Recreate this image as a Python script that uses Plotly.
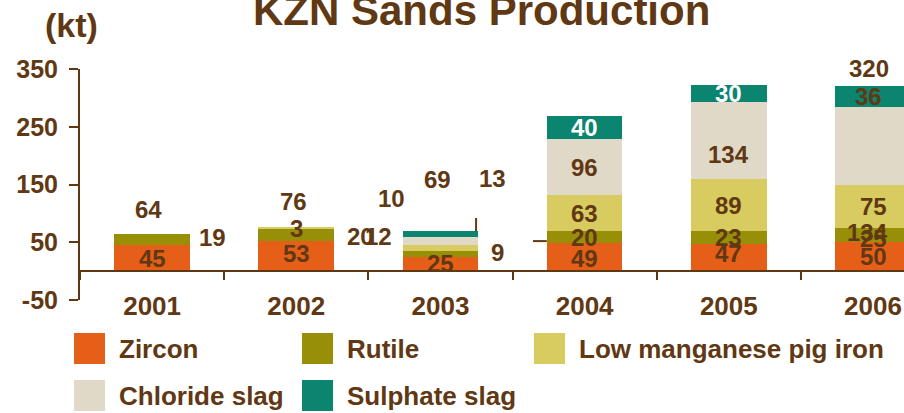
import plotly.graph_objects as go

# data (kt)
years = ["2001", "2002", "2003", "2004", "2005", "2006"]
series_names = ["Zircon", "Rutile", "Low manganese pig iron", "Chloride slag", "Sulphate slag"]
zircon = [45, 53, 25, 49, 47, 50]
rutile = [19, 20, 9, 20, 23, 25]
pig_iron = [0, 3, 12, 63, 89, 75]
chloride_slag = [0, 0, 13, 96, 134, 134]
sulphate_slag = [0, 0, 10, 40, 30, 36]
show_total = [True, True, True, False, False, True]
y_ticks = [-50, 50, 150, 250, 350]

series_values = [zircon, rutile, pig_iron, chloride_slag, sulphate_slag]
colors = ["#E65F19", "#978F08", "#D8CC60", "#E0D9C8", "#0B8470"]
brown = "#603813"
font_family = "Liberation Sans, Arial, sans-serif"

# label tweaks in pixels (dx right, dy down), keyed by (series, year index)
label_shift = {
    (1, 0): (60, -2), (0, 1): (0, -2), (1, 1): (64, 2),
    (1, 2): (57, -2), (2, 2): (-62, -12), (3, 2): (52, -62), (4, 2): (-49, -36),
    (0, 3): (0, 2), (0, 4): (0, -4), (3, 4): (0, 14),
    (3, 5): (-6, 87), (4, 5): (-5, 0), (1, 5): (0, 3),
}
label_white = {(4, 3), (4, 4)}
total_shift = [(-4, -25), (-3, -26), (-3, -52), (0, 0), (0, 0), (-4, -18)]

# margins in px
ml, mr, mt, mb = 80, 0, 69, 113
W, H = 904, 413
pw, ph = W - ml - mr, H - mt - mb


def px_x(px):
    return (px - ml) / pw


def px_y(py):
    return (H - mb - py) / ph


fig = go.Figure()

for name, vals, col in zip(series_names, series_values, colors):
    fig.add_trace(go.Bar(x=years, y=vals, name=name, marker=dict(color=col, line=dict(width=0)),
                         width=0.525, hoverinfo="skip"))

annotations = []
for i, year in enumerate(years):
    base = 0
    for s, vals in enumerate(series_values):
        v = vals[i]
        if v > 0:
            dx, dy = label_shift.get((s, i), (0, 0))
            annotations.append(dict(
                x=i, y=base + v / 2, xref="x", yref="y", text=str(v), showarrow=False,
                xshift=dx, yshift=-dy, xanchor="center", yanchor="middle",
                font=dict(family=font_family, size=24, weight="bold",
                          color="white" if (s, i) in label_white else brown)))
        base += v
    if show_total[i]:
        dx, dy = total_shift[i]
        annotations.append(dict(
            x=i, y=base, xref="x", yref="y", text=str(base), showarrow=False,
            xshift=dx, yshift=-dy, xanchor="center", yanchor="middle",
            font=dict(family=font_family, size=24, weight="bold", color=brown)))

# title and unit
annotations.append(dict(x=px_x(481), y=px_y(10), xref="paper", yref="paper", text="KZN Sands Production",
                        showarrow=False, xanchor="center", yanchor="middle",
                        font=dict(family=font_family, size=42, weight="bold", color=brown)))
annotations.append(dict(x=px_x(71), y=px_y(25), xref="paper", yref="paper", text="(kt)",
                        showarrow=False, xanchor="center", yanchor="middle",
                        font=dict(family=font_family, size=34, weight="bold", color=brown)))

# legend drawn by hand: big square swatches
shapes = []
legend_cols = [74, 302, 534]
legend_rows = [333, 380]
legend_pos = [(0, 0), (1, 0), (2, 0), (0, 1), (1, 1)]
for name, col, (c, r) in zip(series_names, colors, legend_pos):
    x0, y0 = legend_cols[c], legend_rows[r]
    shapes.append(dict(type="rect", xref="paper", yref="paper", x0=px_x(x0), x1=px_x(x0 + 31),
                       y0=px_y(y0), y1=px_y(y0 + 31), fillcolor=col, line=dict(width=0)))
    annotations.append(dict(x=px_x(x0 + 43), y=px_y(y0 + 15.5), xref="paper", yref="paper", text=name,
                            showarrow=False, xanchor="left", yanchor="middle",
                            font=dict(family=font_family, size=26, weight="bold", color=brown)))

# stray leader ticks left in the original
shapes.append(dict(type="line", xref="x", yref="y", x0=2.247, x1=2.247, y0=69, y1=92,
                   line=dict(color=brown, width=2)))
shapes.append(dict(type="line", xref="x", yref="y", x0=2.642, x1=2.7375, y0=52, y1=52,
                   line=dict(color=brown, width=2)))

fig.update_layout(
    barmode="stack",
    width=W, height=H, autosize=False,
    margin=dict(l=ml, r=mr, t=mt, b=mb, pad=0),
    showlegend=False,
    paper_bgcolor="white", plot_bgcolor="white",
    annotations=annotations, shapes=shapes,
)
fig.update_xaxes(type="category", range=[-0.5, 5.215], anchor="free", position=0.125,
                 showline=True, linecolor=brown, linewidth=2, ticks="outside", tickson="boundaries",
                 ticklen=8, tickwidth=2, tickcolor=brown, showgrid=False, zeroline=False,
                 ticklabelstandoff=12,
                 tickfont=dict(family=font_family, size=26, weight="bold", color=brown))
fig.update_yaxes(range=[-50, 350], tickvals=y_ticks, ticktext=[str(t) for t in y_ticks],
                 showline=True, linecolor=brown,
                 linewidth=2, ticks="outside", ticklen=9, tickwidth=2, tickcolor=brown, showgrid=False,
                 zeroline=False, ticklabelstandoff=6,
                 tickfont=dict(family=font_family, size=25, weight="bold", color=brown))

# drop the default page margin so the figure sits at the window's corner
fig.write_html("out.html", config={"displayModeBar": False},
               post_script="document.body.style.margin='0';document.body.style.overflow='hidden';")
